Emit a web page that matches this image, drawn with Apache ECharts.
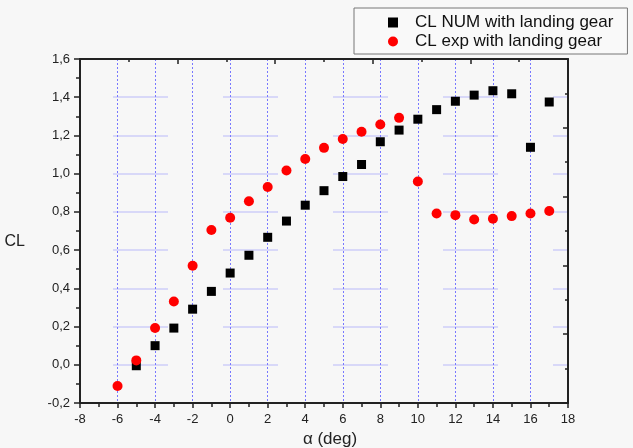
<!DOCTYPE html>
<html>
<head>
<meta charset="utf-8" />
<title>CL</title>
<script src="https://cdn.jsdelivr.net/npm/echarts@6/dist/echarts.min.js"></script>
<style>
  html, body { margin: 0; padding: 0; background: #f7f7f7; }
  #main { width: 633px; height: 448px; }
</style>
</head>
<body>
<div id="main"></div>
<script>
// angle of attack (deg) and lift coefficient
var alphaNum = [-5, -4, -3, -2, -1, 0, 1, 2, 3, 4, 5, 6, 7, 8, 9, 10, 11, 12, 13, 14, 15, 16, 17];
var clNum = [-0.005, 0.10, 0.192, 0.291, 0.384, 0.48, 0.573, 0.667, 0.752, 0.835, 0.911, 0.985, 1.048, 1.167, 1.228, 1.285, 1.335, 1.379, 1.411, 1.434, 1.418, 1.138, 1.375];

var alphaExp = [-6, -5, -4, -3, -2, -1, 0, 1, 2, 3, 4, 5, 6, 7, 8, 9, 10, 11, 12, 13, 14, 15, 16, 17];
var clExp = [-0.111, 0.023, 0.192, 0.331, 0.518, 0.705, 0.769, 0.856, 0.930, 1.017, 1.077, 1.135, 1.181, 1.219, 1.257, 1.292, 0.959, 0.792, 0.783, 0.760, 0.764, 0.778, 0.792, 0.805];

var seriesNames = ['CL NUM with landing gear', 'CL exp with landing gear'];

var myChart = echarts.init(document.getElementById('main'));

var axisLine = { show: true, onZero: false, lineStyle: { color: '#222', width: 2 } };
var font = 'Liberation Sans';

var option = {
    backgroundColor: '#f7f7f7',
    animation: false,
    textStyle: { fontFamily: font },
    grid: { left: 80, right: 65, top: 59, bottom: 45, outerBoundsMode: 'none', containLabel: false },
    legend: {
        orient: 'vertical',
        left: 354,
        top: 8,
        padding: [6, 14, 4, 34],
        itemGap: 2,
        itemWidth: 10,
        itemHeight: 10,
        borderColor: '#777',
        borderWidth: 1,
        backgroundColor: '#f9f9f9',
        textStyle: { fontFamily: font, fontSize: 17, color: '#111', padding: [0, 0, 0, 12] },
        data: [
            { name: seriesNames[0], icon: 'rect' },
            { name: seriesNames[1], icon: 'circle' }
        ]
    },
    xAxis: [
        {
            type: 'value',
            position: 'bottom',
            min: -8, max: 18, interval: 2,
            name: 'α (deg)',
            nameLocation: 'middle',
            nameGap: 28,
            nameTextStyle: { fontSize: 17, color: '#222', padding: [0, 0, 0, 12] },
            axisLine: axisLine,
            axisTick: { show: true, inside: false, length: 5, lineStyle: { color: '#222', width: 1.5 } },
            minorTick: { show: true, splitNumber: 2, length: 4, lineStyle: { color: '#222', width: 1.5 } },
            axisLabel: { fontSize: 13, color: '#222', margin: 10 },
            splitLine: { show: true, lineStyle: { color: '#7878ff', type: [2, 2], width: 1 } }
        },
        {
            // top frame, ticks only
            type: 'value',
            position: 'top',
            min: 0, max: 10, interval: 2,
            axisLine: axisLine,
            axisTick: { show: true, inside: true, length: 5, lineStyle: { color: '#222', width: 1.5 } },
            minorTick: { show: true, splitNumber: 2, length: 3, lineStyle: { color: '#222', width: 1.5 } },
            axisLabel: { show: false },
            splitLine: { show: false }
        }
    ],
    yAxis: [
        {
            type: 'value',
            position: 'left',
            min: -0.2, max: 1.6, interval: 0.2,
            name: 'CL',
            nameLocation: 'middle',
            nameRotate: 0,
            nameGap: 55,
            nameTextStyle: { fontSize: 16, color: '#222', verticalAlign: 'top', padding: [3, 0, 0, 0] },
            axisLine: axisLine,
            axisTick: { show: true, inside: false, length: 6, lineStyle: { color: '#222', width: 1.5 } },
            minorTick: { show: true, splitNumber: 2, length: 4, lineStyle: { color: '#222', width: 1.5 } },
            axisLabel: {
                fontSize: 13, color: '#222', margin: 10,
                formatter: function (v) { return v.toFixed(1).replace('.', ','); }
            },
            splitLine: {
                show: true,
                lineStyle: { color: 'rgba(100,100,255,0.28)', width: 1.5, type: [55, 55], dashOffset: 77 }
            }
        },
        {
            // right frame, ticks only
            type: 'value',
            position: 'right',
            min: 0, max: 10, interval: 2,
            axisLine: axisLine,
            axisTick: { show: true, inside: true, length: 5, lineStyle: { color: '#222', width: 1.5 } },
            minorTick: { show: true, splitNumber: 2, length: 3, lineStyle: { color: '#222', width: 1.5 } },
            axisLabel: { show: false },
            splitLine: { show: false }
        }
    ],
    series: [
        {
            name: seriesNames[0],
            type: 'scatter',
            xAxisIndex: 0,
            yAxisIndex: 0,
            symbol: 'rect',
            symbolSize: 9,
            itemStyle: { color: '#000', opacity: 1 },
            data: alphaNum.map(function (a, i) { return [a, clNum[i]]; })
        },
        {
            name: seriesNames[1],
            type: 'scatter',
            xAxisIndex: 0,
            yAxisIndex: 0,
            symbol: 'circle',
            symbolSize: 10,
            itemStyle: { color: '#ff0000', opacity: 1 },
            data: alphaExp.map(function (a, i) { return [a, clExp[i]]; })
        }
    ]
};

myChart.setOption(option);
</script>
</body>
</html>
